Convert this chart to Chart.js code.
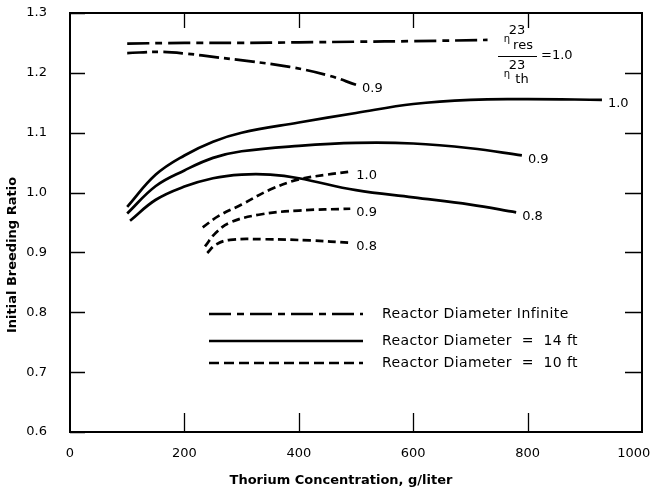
<!DOCTYPE html>
<html><head><meta charset="utf-8">
<script src="https://cdn.jsdelivr.net/npm/chart.js@4.4.1/dist/chart.umd.min.js"></script>
<style>html,body{margin:0;padding:0;background:#fff;}</style>
</head><body>
<canvas id="c" width="653" height="492"></canvas>
<script>
// ---- data ----
const xTicks = [0, 200, 400, 600, 800, 1000];
const yTicks = [0.6, 0.7, 0.8, 0.9, 1.0, 1.1, 1.2, 1.3];
const legendNames = ["Reactor Diameter Infinite", "Reactor Diameter  =  14 ft", "Reactor Diameter  =  10 ft"];
const xTitle = "Thorium Concentration, g/liter";
const yTitle = "Initial Breeding Ratio";

// infinite diameter
const infR10X = [100, 200, 300, 400, 500, 600, 730];
const infR10Y = [1.249, 1.250, 1.250, 1.251, 1.252, 1.253, 1.255];
const infR09X = [100, 157, 204, 257, 309, 384, 454, 500];
const infR09Y = [1.233, 1.235, 1.232, 1.226, 1.220, 1.210, 1.195, 1.180];
// 14 ft
const d14R10X = [100, 150, 200, 250, 300, 400, 500, 600, 700, 800, 930];
const d14R10Y = [0.976, 1.030, 1.062, 1.085, 1.100, 1.117, 1.133, 1.148, 1.155, 1.156, 1.155];
const d14R09X = [100, 150, 200, 250, 300, 400, 500, 600, 700, 790];
const d14R09Y = [0.965, 1.011, 1.037, 1.058, 1.069, 1.078, 1.083, 1.082, 1.074, 1.062];
const d14R08X = [105, 150, 200, 250, 300, 350, 400, 500, 600, 700, 780];
const d14R08Y = [0.953, 0.988, 1.010, 1.024, 1.030, 1.030, 1.024, 1.004, 0.992, 0.980, 0.967];
// 10 ft
const d10R10X = [232, 260, 300, 350, 400, 450, 490];
const d10R10Y = [0.942, 0.961, 0.980, 1.005, 1.022, 1.030, 1.035];
const d10R09X = [236, 255, 280, 330, 400, 490];
const d10R09Y = [0.910, 0.933, 0.950, 0.963, 0.970, 0.973];
const d10R08X = [240, 255, 280, 340, 420, 490];
const d10R08Y = [0.899, 0.913, 0.921, 0.922, 0.920, 0.916];

const curveLabels = ["", "0.9", "1.0", "0.9", "0.8", "1.0", "0.9", "0.8"];

// ---- styles ----
const DASH_INF = [22, 6, 7, 6];
const DASH_INF2 = [20, 5, 6, 5];
const DASH_10 = [8, 4.5];
const FONT = '"DejaVu Sans", sans-serif';

function pts(xs, ys) { return xs.map((x, i) => ({ x: x, y: ys[i] })); }
function ds(xs, ys, dash, lab) {
  return {
    label: lab, data: pts(xs, ys), borderColor: '#000', backgroundColor: '#000',
    borderWidth: 2.7, borderDash: dash, pointRadius: 0, fill: false,
    tension: 0.4, borderCapStyle: 'butt'
  };
}

const datasets = [
  ds(infR10X, infR10Y, DASH_INF, 'inf 1.0'),
  ds(infR09X, infR09Y, DASH_INF2, 'inf 0.9'),
  ds(d14R10X, d14R10Y, [], '14 1.0'),
  ds(d14R09X, d14R09Y, [], '14 0.9'),
  ds(d14R08X, d14R08Y, [], '14 0.8'),
  ds(d10R10X, d10R10Y, DASH_10, '10 1.0'),
  ds(d10R09X, d10R09Y, DASH_10, '10 0.9'),
  ds(d10R08X, d10R08Y, DASH_10, '10 0.8')
];

const deco = {
  id: 'deco',
  afterDraw(chart) {
    const ctx = chart.ctx, a = chart.chartArea;
    const xs = chart.scales.x, ys = chart.scales.y;
    ctx.save();
    ctx.strokeStyle = '#000'; ctx.fillStyle = '#000';
    // frame
    ctx.lineWidth = 2; ctx.setLineDash([]);
    ctx.strokeRect(a.left, a.top, a.right - a.left, a.bottom - a.top);
    // inward ticks
    ctx.lineWidth = 1.3;
    ctx.beginPath();
    yTicks.forEach(v => {
      const y = Math.round(ys.getPixelForValue(v)) + 0.5;
      ctx.moveTo(a.left, y); ctx.lineTo(a.left + 15, y);
      if (v > 0.6 && v < 1.3) { ctx.moveTo(a.right - 17, y); ctx.lineTo(a.right, y); }
    });
    xTicks.forEach(v => {
      if (v <= 0 || v >= 1000) return;
      const x = Math.round(xs.getPixelForValue(v)) + 0.5;
      ctx.moveTo(x, a.bottom); ctx.lineTo(x, a.bottom - 19);
      ctx.moveTo(x, a.top); ctx.lineTo(x, a.top + 15);
    });
    ctx.stroke();
    // curve end labels
    ctx.font = '13px ' + FONT; ctx.textAlign = 'left'; ctx.textBaseline = 'middle';
    chart.data.datasets.forEach((d, i) => {
      const t = curveLabels[i]; if (!t) return;
      const m = chart.getDatasetMeta(i); const p = m.data[m.data.length - 1];
      ctx.fillText(t, p.x + 6, p.y + 4);
    });
    // legend
    const lg = [[DASH_INF, 314], [[], 341], [[10, 5], 363]];
    ctx.font = '14px ' + FONT;
    if ('letterSpacing' in ctx) ctx.letterSpacing = '0.4px';
    lg.forEach((l, i) => {
      ctx.lineWidth = 2.7; ctx.setLineDash(l[0]);
      ctx.beginPath(); ctx.moveTo(209, l[1]); ctx.lineTo(363, l[1]); ctx.stroke();
      ctx.setLineDash([]);
      ctx.fillText(legendNames[i], 382, l[1]);
    });
    if ('letterSpacing' in ctx) ctx.letterSpacing = '0px';
    // eta ratio annotation
    ctx.textAlign = 'center';
    ctx.font = '13px ' + FONT;
    ctx.fillText('23', 517, 31);
    ctx.fillText('23', 517, 66);
    ctx.font = '10px ' + FONT;
    ctx.fillText('\u03b7', 507, 39);
    ctx.fillText('\u03b7', 507, 74);
    ctx.font = '13px ' + FONT;
    ctx.fillText('res', 523, 46);
    ctx.fillText('th', 522, 80);
    ctx.lineWidth = 1;
    ctx.beginPath(); ctx.moveTo(498, 56.5); ctx.lineTo(537, 56.5); ctx.stroke();
    ctx.textAlign = 'left';
    ctx.fillText('=1.0', 541, 56);
    // axis titles
    ctx.font = 'bold 13px ' + FONT;
    ctx.textAlign = 'center';
    ctx.fillText(xTitle, 341, 481);
    ctx.translate(13, 255); ctx.rotate(-Math.PI / 2);
    ctx.fillText(yTitle, 0, 0);
    ctx.restore();
  }
};

new Chart(document.getElementById('c'), {
  type: 'line',
  data: { datasets: datasets },
  options: {
    responsive: false, animation: false, devicePixelRatio: 1,
    layout: { padding: { top: 13, right: 11, left: 0, bottom: 0 } },
    plugins: { legend: { display: false }, tooltip: { enabled: false } },
    scales: {
      x: {
        type: 'linear', min: 0, max: 1000,
        afterBuildTicks: s => { s.ticks = xTicks.map(v => ({ value: v })); },
        afterFit: s => { s.height = 60; s.paddingLeft = 0; s.paddingRight = 0; },
        grid: { display: false }, border: { display: false },
        ticks: { color: '#000', font: { size: 13, family: FONT }, padding: 6, maxRotation: 0,
          callback: v => v === 1000 ? '1000\u2007\u2007' : String(v) }
      },
      y: {
        type: 'linear', min: 0.6, max: 1.3,
        afterBuildTicks: s => { s.ticks = yTicks.map(v => ({ value: v })); },
        afterFit: s => { s.width = 70; s.paddingTop = 0; s.paddingBottom = 0; },
        grid: { display: false }, border: { display: false },
        ticks: { color: '#000', font: { size: 13, family: FONT }, padding: 15,
          callback: v => Number(v).toFixed(1) }
      }
    }
  },
  plugins: [deco]
});
</script>
</body></html>
